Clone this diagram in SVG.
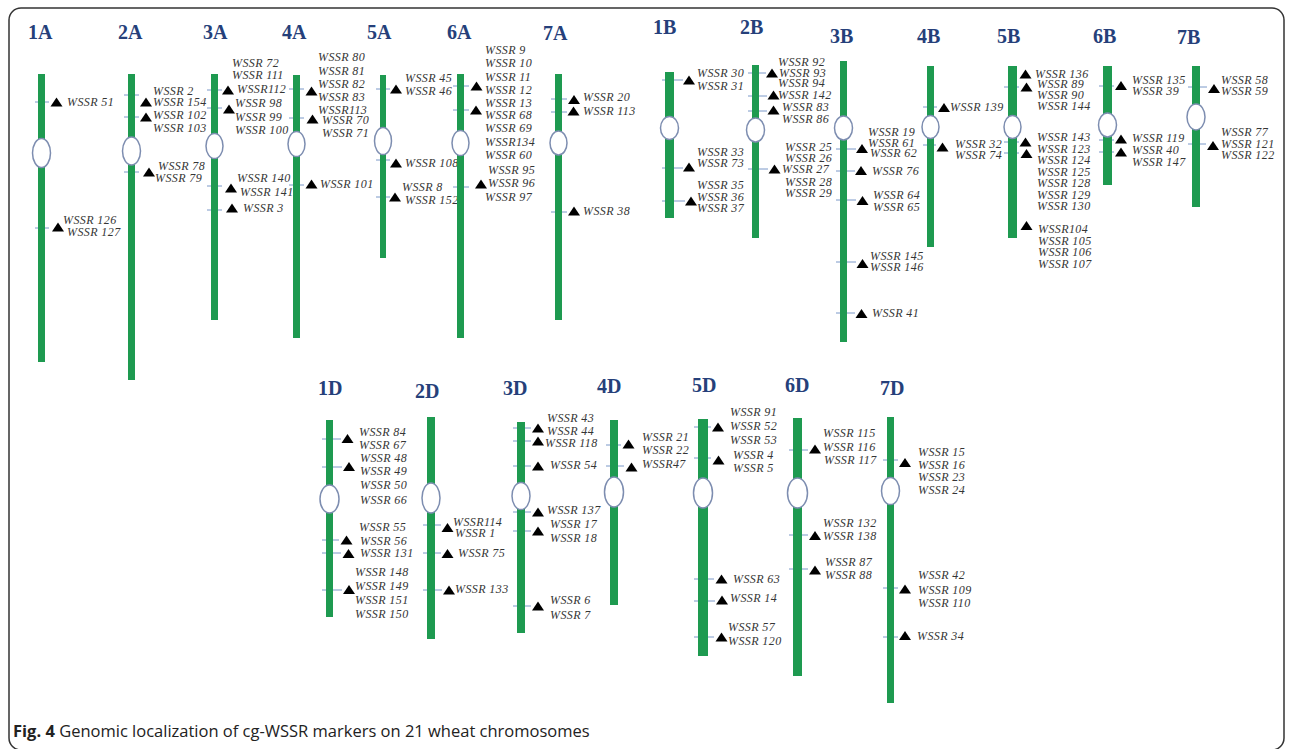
<svg xmlns="http://www.w3.org/2000/svg" xmlns:xlink="http://www.w3.org/1999/xlink" width="1290" height="749" viewBox="0 0 1290 749">
<style>
.bar{fill:#1e9a50}
.cen{fill:#fff;stroke:#7d8db0;stroke-width:1.5}
.hd{font-family:"Liberation Serif",serif;font-weight:bold;font-size:20px;fill:#25407a}
.lb{font-family:"Liberation Serif",serif;font-style:italic;font-size:12px;fill:#353535;letter-spacing:0.4px;dominant-baseline:central}
.tick{stroke:#7a98c8;stroke-width:1}
.tri{fill:#000}
.cap{font-family:"Open Sans",sans-serif;font-size:16.5px;fill:#222}
</style>
<defs>
<path id="tri" class="tri" d="M0,-4.5L6,4.5L-6,4.5Z"/>
</defs>
<rect x="9" y="8" width="1275" height="742" rx="12" fill="#fff" stroke="#333" stroke-width="1.5"/>

<g id="connectors">
<line class="tick" x1="35" y1="102" x2="49" y2="102"/><line class="tick" x1="35" y1="228" x2="49" y2="228"/>
<line class="tick" x1="124" y1="95" x2="139" y2="95"/><line class="tick" x1="124" y1="117" x2="139" y2="117"/><line class="tick" x1="124" y1="172" x2="139" y2="172"/>
<line class="tick" x1="207" y1="90" x2="222" y2="90"/><line class="tick" x1="207" y1="108" x2="222" y2="108"/><line class="tick" x1="207" y1="186" x2="222" y2="186"/><line class="tick" x1="207" y1="210" x2="222" y2="210"/>
<line class="tick" x1="289" y1="89" x2="304" y2="89"/><line class="tick" x1="289" y1="118" x2="304" y2="118"/><line class="tick" x1="289" y1="185" x2="304" y2="185"/>
<line class="tick" x1="376" y1="89" x2="390" y2="89"/><line class="tick" x1="376" y1="160" x2="390" y2="160"/><line class="tick" x1="376" y1="197" x2="390" y2="197"/>
<line class="tick" x1="453" y1="86" x2="469" y2="86"/><line class="tick" x1="453" y1="110" x2="469" y2="110"/><line class="tick" x1="453" y1="187" x2="469" y2="187"/>
<line class="tick" x1="551" y1="99" x2="567" y2="99"/><line class="tick" x1="551" y1="112" x2="567" y2="112"/><line class="tick" x1="551" y1="212" x2="567" y2="212"/>
<line class="tick" x1="662" y1="80" x2="683" y2="80"/><line class="tick" x1="662" y1="168" x2="683" y2="168"/><line class="tick" x1="662" y1="201" x2="685" y2="201"/>
<line class="tick" x1="748" y1="73" x2="766" y2="73"/><line class="tick" x1="748" y1="96" x2="767" y2="96"/><line class="tick" x1="748" y1="111" x2="767" y2="111"/><line class="tick" x1="748" y1="169" x2="768" y2="169"/>
<line class="tick" x1="836" y1="149" x2="856" y2="149"/><line class="tick" x1="836" y1="171" x2="855" y2="171"/><line class="tick" x1="836" y1="200" x2="856" y2="200"/><line class="tick" x1="836" y1="262" x2="856" y2="262"/><line class="tick" x1="836" y1="313" x2="855" y2="313"/>
<line class="tick" x1="923" y1="107" x2="937" y2="107"/><line class="tick" x1="923" y1="145" x2="936" y2="145"/>
<line class="tick" x1="1004" y1="87" x2="1019" y2="87"/><line class="tick" x1="1004" y1="142" x2="1019" y2="142"/><line class="tick" x1="1004" y1="153" x2="1019" y2="153"/>
<line class="tick" x1="1099" y1="86" x2="1114" y2="86"/><line class="tick" x1="1099" y1="140" x2="1114" y2="140"/><line class="tick" x1="1099" y1="152" x2="1114" y2="152"/>
<line class="tick" x1="1188" y1="87" x2="1207" y2="87"/><line class="tick" x1="1188" y1="144" x2="1206" y2="144"/>
<line class="tick" x1="322" y1="439" x2="341" y2="439"/><line class="tick" x1="322" y1="467" x2="342" y2="467"/><line class="tick" x1="322" y1="540" x2="339" y2="540"/><line class="tick" x1="322" y1="553" x2="341" y2="553"/><line class="tick" x1="322" y1="590" x2="342" y2="590"/>
<line class="tick" x1="423" y1="525" x2="441" y2="525"/><line class="tick" x1="423" y1="553" x2="441" y2="553"/><line class="tick" x1="423" y1="590" x2="442" y2="590"/>
<line class="tick" x1="513" y1="428" x2="531" y2="428"/><line class="tick" x1="513" y1="441" x2="531" y2="441"/><line class="tick" x1="513" y1="466" x2="531" y2="466"/><line class="tick" x1="513" y1="512" x2="531" y2="512"/><line class="tick" x1="513" y1="531" x2="531" y2="531"/><line class="tick" x1="513" y1="606" x2="531" y2="606"/>
<line class="tick" x1="606" y1="445" x2="621" y2="445"/><line class="tick" x1="606" y1="466" x2="624" y2="466"/>
<line class="tick" x1="694" y1="427" x2="711" y2="427"/><line class="tick" x1="694" y1="458" x2="711" y2="458"/><line class="tick" x1="694" y1="579" x2="714" y2="579"/><line class="tick" x1="694" y1="601" x2="715" y2="601"/><line class="tick" x1="694" y1="637" x2="714" y2="637"/>
<line class="tick" x1="789" y1="450" x2="808" y2="450"/><line class="tick" x1="789" y1="535" x2="808" y2="535"/><line class="tick" x1="789" y1="569" x2="808" y2="569"/>
<line class="tick" x1="883" y1="460" x2="898" y2="460"/><line class="tick" x1="883" y1="588" x2="898" y2="588"/><line class="tick" x1="883" y1="637" x2="898" y2="637"/>
</g>

<g id="chr1A">
<text class="hd" x="28" y="39">1A</text>
<rect class="bar" x="38" y="74" width="7" height="288"/>
<ellipse class="cen" cx="41.5" cy="153" rx="9" ry="14.5"/>
<use href="#tri" x="56.5" y="102"/><use href="#tri" x="58" y="227"/>
<text class="lb" x="67" y="102">WSSR 51</text>
<text class="lb" x="63" y="220">WSSR 126</text>
<text class="lb" x="67" y="232">WSSR 127</text>
</g>

<g id="chr2A">
<text class="hd" x="118" y="39">2A</text>
<rect class="bar" x="128" y="74" width="7" height="306"/>
<ellipse class="cen" cx="131.5" cy="151" rx="9" ry="14"/>
<use href="#tri" x="146" y="102"/><use href="#tri" x="146" y="117"/><use href="#tri" x="149" y="172"/>
<text class="lb" x="153" y="91">WSSR 2</text>
<text class="lb" x="153" y="102">WSSR 154</text>
<text class="lb" x="153" y="115">WSSR 102</text>
<text class="lb" x="153" y="128">WSSR 103</text>
<text class="lb" x="158" y="166">WSSR 78</text>
<text class="lb" x="155" y="178">WSSR 79</text>
</g>

<g id="chr3A">
<text class="hd" x="203" y="39">3A</text>
<rect class="bar" x="211" y="74" width="7" height="246"/>
<ellipse class="cen" cx="214.5" cy="146" rx="8.5" ry="12.5"/>
<use href="#tri" x="228" y="90"/><use href="#tri" x="229" y="109"/><use href="#tri" x="231" y="188"/><use href="#tri" x="232" y="208"/>
<text class="lb" x="232" y="63">WSSR 72</text>
<text class="lb" x="232" y="75">WSSR 111</text>
<text class="lb" x="237" y="89">WSSR112</text>
<text class="lb" x="235" y="103">WSSR 98</text>
<text class="lb" x="235" y="117">WSSR 99</text>
<text class="lb" x="235" y="130">WSSR 100</text>
<text class="lb" x="237" y="178">WSSR 140</text>
<text class="lb" x="240" y="192">WSSR 141</text>
<text class="lb" x="243" y="208">WSSR 3</text>
</g>

<g id="chr4A">
<text class="hd" x="282" y="39">4A</text>
<rect class="bar" x="293" y="75" width="7" height="263"/>
<ellipse class="cen" cx="296.5" cy="144" rx="8.5" ry="12.5"/>
<use href="#tri" x="311.5" y="91"/><use href="#tri" x="312.5" y="119"/><use href="#tri" x="311.5" y="184"/>
<text class="lb" x="318" y="57">WSSR 80</text>
<text class="lb" x="318" y="71">WSSR 81</text>
<text class="lb" x="318" y="84">WSSR 82</text>
<text class="lb" x="318" y="97">WSSR 83</text>
<text class="lb" x="318" y="110">WSSR113</text>
<text class="lb" x="322" y="120">WSSR 70</text>
<text class="lb" x="322" y="133">WSSR 71</text>
<text class="lb" x="320" y="184">WSSR 101</text>
</g>

<g id="chr5A">
<text class="hd" x="367" y="39">5A</text>
<rect class="bar" x="380" y="75" width="6" height="183"/>
<ellipse class="cen" cx="383" cy="141" rx="8.5" ry="13.5"/>
<use href="#tri" x="396" y="89"/><use href="#tri" x="396" y="163"/><use href="#tri" x="395" y="197"/>
<text class="lb" x="405" y="78">WSSR 45</text>
<text class="lb" x="405" y="91">WSSR 46</text>
<text class="lb" x="405" y="163">WSSR 108</text>
<text class="lb" x="402" y="187">WSSR 8</text>
<text class="lb" x="405" y="200">WSSR 152</text>
</g>

<g id="chr6A">
<text class="hd" x="447" y="39">6A</text>
<rect class="bar" x="457" y="74" width="7" height="264"/>
<ellipse class="cen" cx="460.5" cy="143" rx="8.5" ry="12.5"/>
<use href="#tri" x="476.5" y="86"/><use href="#tri" x="476" y="110"/><use href="#tri" x="481" y="184"/>
<text class="lb" x="485" y="50">WSSR 9</text>
<text class="lb" x="485" y="63">WSSR 10</text>
<text class="lb" x="485" y="77">WSSR 11</text>
<text class="lb" x="485" y="90">WSSR 12</text>
<text class="lb" x="485" y="103">WSSR 13</text>
<text class="lb" x="485" y="115">WSSR 68</text>
<text class="lb" x="485" y="128">WSSR 69</text>
<text class="lb" x="485" y="142">WSSR134</text>
<text class="lb" x="485" y="155">WSSR 60</text>
<text class="lb" x="488" y="170">WSSR 95</text>
<text class="lb" x="488" y="183">WSSR 96</text>
<text class="lb" x="485" y="197">WSSR 97</text>
</g>

<g id="chr7A">
<text class="hd" x="543" y="40">7A</text>
<rect class="bar" x="555" y="74" width="7" height="246"/>
<ellipse class="cen" cx="558.5" cy="143" rx="8.5" ry="12"/>
<use href="#tri" x="574" y="99.5"/><use href="#tri" x="573.5" y="111"/><use href="#tri" x="574" y="211"/>
<text class="lb" x="583" y="97">WSSR 20</text>
<text class="lb" x="583" y="111">WSSR 113</text>
<text class="lb" x="583" y="211">WSSR 38</text>
</g>

<g id="chr1B">
<text class="hd" x="653" y="34">1B</text>
<rect class="bar" x="665" y="72" width="9" height="146"/>
<ellipse class="cen" cx="669.5" cy="128" rx="9" ry="11.5"/>
<use href="#tri" x="689" y="80"/><use href="#tri" x="689" y="167"/><use href="#tri" x="691" y="201"/>
<text class="lb" x="697" y="73">WSSR 30</text>
<text class="lb" x="697" y="86">WSSR 31</text>
<text class="lb" x="697" y="152">WSSR 33</text>
<text class="lb" x="697" y="163">WSSR 73</text>
<text class="lb" x="697" y="185">WSSR 35</text>
<text class="lb" x="697" y="197">WSSR 36</text>
<text class="lb" x="697" y="208">WSSR 37</text>
</g>

<g id="chr2B">
<text class="hd" x="740" y="34">2B</text>
<rect class="bar" x="752" y="65" width="7" height="173"/>
<ellipse class="cen" cx="755.5" cy="130" rx="9" ry="12"/>
<use href="#tri" x="772" y="73"/><use href="#tri" x="773.5" y="95"/><use href="#tri" x="773.5" y="110"/><use href="#tri" x="774.5" y="169"/>
<text class="lb" x="778" y="62">WSSR 92</text>
<text class="lb" x="779" y="73">WSSR 93</text>
<text class="lb" x="778" y="83">WSSR 94</text>
<text class="lb" x="778" y="95">WSSR 142</text>
<text class="lb" x="782" y="107">WSSR 83</text>
<text class="lb" x="782" y="119">WSSR 86</text>
<text class="lb" x="785" y="147">WSSR 25</text>
<text class="lb" x="785" y="158">WSSR 26</text>
<text class="lb" x="782" y="169">WSSR 27</text>
<text class="lb" x="785" y="182">WSSR 28</text>
<text class="lb" x="785" y="193">WSSR 29</text>
</g>

<g id="chr3B">
<text class="hd" x="830" y="43">3B</text>
<rect class="bar" x="840" y="61" width="7" height="281"/>
<ellipse class="cen" cx="843.5" cy="128" rx="9" ry="12"/>
<use href="#tri" x="862" y="148.5"/><use href="#tri" x="861" y="170.5"/><use href="#tri" x="862.5" y="200.5"/><use href="#tri" x="862.5" y="263.5"/><use href="#tri" x="861.5" y="313.5"/>
<text class="lb" x="868" y="132">WSSR 19</text>
<text class="lb" x="868" y="143">WSSR 61</text>
<text class="lb" x="870" y="153">WSSR 62</text>
<text class="lb" x="872" y="171">WSSR 76</text>
<text class="lb" x="873" y="195">WSSR 64</text>
<text class="lb" x="873" y="207">WSSR 65</text>
<text class="lb" x="870" y="256">WSSR 145</text>
<text class="lb" x="870" y="267">WSSR 146</text>
<text class="lb" x="872" y="313">WSSR 41</text>
</g>

<g id="chr4B">
<text class="hd" x="917" y="43">4B</text>
<rect class="bar" x="927" y="66" width="7" height="181"/>
<ellipse class="cen" cx="930.5" cy="127" rx="8.5" ry="11.5"/>
<use href="#tri" x="944" y="107.5"/><use href="#tri" x="942.5" y="147"/>
<text class="lb" x="950" y="107">WSSR 139</text>
<text class="lb" x="955" y="144">WSSR 32</text>
<text class="lb" x="955" y="155">WSSR 74</text>
</g>

<g id="chr5B">
<text class="hd" x="997" y="43">5B</text>
<rect class="bar" x="1008" y="66" width="9" height="172"/>
<ellipse class="cen" cx="1012.5" cy="127" rx="8.5" ry="11.5"/>
<use href="#tri" x="1025.5" y="74"/><use href="#tri" x="1026.5" y="87"/><use href="#tri" x="1025.5" y="142"/><use href="#tri" x="1026.5" y="153.5"/><use href="#tri" x="1026.5" y="225.5"/>
<text class="lb" x="1035" y="74">WSSR 136</text>
<text class="lb" x="1037" y="84">WSSR 89</text>
<text class="lb" x="1037" y="95">WSSR 90</text>
<text class="lb" x="1037" y="106">WSSR 144</text>
<text class="lb" x="1037" y="137">WSSR 143</text>
<text class="lb" x="1037" y="148.5">WSSR 123</text>
<text class="lb" x="1037" y="160">WSSR 124</text>
<text class="lb" x="1037" y="171.5">WSSR 125</text>
<text class="lb" x="1037" y="183">WSSR 128</text>
<text class="lb" x="1037" y="194.5">WSSR 129</text>
<text class="lb" x="1037" y="206">WSSR 130</text>
<text class="lb" x="1038" y="229">WSSR104</text>
<text class="lb" x="1038" y="240.5">WSSR 105</text>
<text class="lb" x="1038" y="252">WSSR 106</text>
<text class="lb" x="1038" y="263.5">WSSR 107</text>
</g>

<g id="chr6B">
<text class="hd" x="1093" y="43">6B</text>
<rect class="bar" x="1103" y="66" width="9" height="119"/>
<ellipse class="cen" cx="1107.5" cy="125" rx="9" ry="12"/>
<use href="#tri" x="1121" y="85.5"/><use href="#tri" x="1121" y="139"/><use href="#tri" x="1121" y="152"/>
<text class="lb" x="1132" y="80">WSSR 135</text>
<text class="lb" x="1132" y="91">WSSR 39</text>
<text class="lb" x="1132" y="138">WSSR 119</text>
<text class="lb" x="1132" y="150">WSSR 40</text>
<text class="lb" x="1132" y="162">WSSR 147</text>
</g>

<g id="chr7B">
<text class="hd" x="1177" y="44">7B</text>
<rect class="bar" x="1192" y="66" width="8" height="141"/>
<ellipse class="cen" cx="1196" cy="117" rx="9" ry="13"/>
<use href="#tri" x="1214" y="88.5"/><use href="#tri" x="1213" y="145.5"/>
<text class="lb" x="1221" y="80">WSSR 58</text>
<text class="lb" x="1221" y="91">WSSR 59</text>
<text class="lb" x="1221" y="132">WSSR 77</text>
<text class="lb" x="1221" y="143.5">WSSR 121</text>
<text class="lb" x="1221" y="155">WSSR 122</text>
</g>

<g id="chr1D">
<text class="hd" x="318" y="395">1D</text>
<rect class="bar" x="326" y="420" width="7" height="197"/>
<ellipse class="cen" cx="329.5" cy="499" rx="9.5" ry="14"/>
<use href="#tri" x="347.5" y="438.5"/><use href="#tri" x="349" y="466.5"/><use href="#tri" x="346.5" y="540"/><use href="#tri" x="348.5" y="553.5"/><use href="#tri" x="349" y="589.5"/>
<text class="lb" x="359" y="432">WSSR 84</text>
<text class="lb" x="359" y="445">WSSR 67</text>
<text class="lb" x="360" y="458">WSSR 48</text>
<text class="lb" x="360" y="471">WSSR 49</text>
<text class="lb" x="360" y="485">WSSR 50</text>
<text class="lb" x="360" y="500">WSSR 66</text>
<text class="lb" x="359" y="527">WSSR 55</text>
<text class="lb" x="360" y="541">WSSR 56</text>
<text class="lb" x="360" y="553">WSSR 131</text>
<text class="lb" x="355" y="572">WSSR 148</text>
<text class="lb" x="355" y="586">WSSR 149</text>
<text class="lb" x="355" y="600">WSSR 151</text>
<text class="lb" x="355" y="614">WSSR 150</text>
</g>

<g id="chr2D">
<text class="hd" x="415" y="398">2D</text>
<rect class="bar" x="427" y="417" width="8" height="222"/>
<ellipse class="cen" cx="431" cy="498" rx="9" ry="15"/>
<use href="#tri" x="447.5" y="527.5"/><use href="#tri" x="447.5" y="553.5"/><use href="#tri" x="449" y="590"/>
<text class="lb" x="453" y="522">WSSR114</text>
<text class="lb" x="455" y="533">WSSR 1</text>
<text class="lb" x="458" y="553">WSSR 75</text>
<text class="lb" x="455" y="589">WSSR 133</text>
</g>

<g id="chr3D">
<text class="hd" x="503" y="395">3D</text>
<rect class="bar" x="517" y="422" width="8" height="211"/>
<ellipse class="cen" cx="521" cy="496" rx="9" ry="13.5"/>
<use href="#tri" x="538" y="428"/><use href="#tri" x="538" y="441"/><use href="#tri" x="538" y="466"/><use href="#tri" x="538" y="512"/><use href="#tri" x="538" y="531"/><use href="#tri" x="538" y="606"/>
<text class="lb" x="547" y="418">WSSR 43</text>
<text class="lb" x="547" y="431">WSSR 44</text>
<text class="lb" x="545" y="443">WSSR 118</text>
<text class="lb" x="550" y="465">WSSR 54</text>
<text class="lb" x="547" y="510">WSSR 137</text>
<text class="lb" x="550" y="524">WSSR 17</text>
<text class="lb" x="550" y="538">WSSR 18</text>
<text class="lb" x="550" y="600">WSSR 6</text>
<text class="lb" x="550" y="615">WSSR 7</text>
</g>

<g id="chr4D">
<text class="hd" x="597" y="393">4D</text>
<rect class="bar" x="610" y="420" width="8" height="185"/>
<ellipse class="cen" cx="614" cy="492" rx="9.5" ry="15"/>
<use href="#tri" x="628.5" y="444"/><use href="#tri" x="631.5" y="467"/>
<text class="lb" x="642" y="437">WSSR 21</text>
<text class="lb" x="642" y="450">WSSR 22</text>
<text class="lb" x="642" y="464">WSSR47</text>
</g>

<g id="chr5D">
<text class="hd" x="692" y="392">5D</text>
<rect class="bar" x="698" y="419" width="10" height="237"/>
<ellipse class="cen" cx="703" cy="493" rx="9.5" ry="15"/>
<use href="#tri" x="718" y="427"/><use href="#tri" x="718.5" y="460"/><use href="#tri" x="721.5" y="579"/><use href="#tri" x="722" y="600"/><use href="#tri" x="721.5" y="637"/>
<text class="lb" x="730" y="412">WSSR 91</text>
<text class="lb" x="730" y="426">WSSR 52</text>
<text class="lb" x="730" y="440">WSSR 53</text>
<text class="lb" x="733" y="455">WSSR 4</text>
<text class="lb" x="733" y="468">WSSR 5</text>
<text class="lb" x="733" y="579">WSSR 63</text>
<text class="lb" x="730" y="598">WSSR 14</text>
<text class="lb" x="728" y="627">WSSR 57</text>
<text class="lb" x="728" y="641">WSSR 120</text>
</g>

<g id="chr6D">
<text class="hd" x="785" y="392">6D</text>
<rect class="bar" x="793" y="418" width="9" height="258"/>
<ellipse class="cen" cx="797.5" cy="493" rx="10" ry="15"/>
<use href="#tri" x="815" y="449"/><use href="#tri" x="815" y="535.5"/><use href="#tri" x="815" y="570"/>
<text class="lb" x="823" y="433">WSSR 115</text>
<text class="lb" x="823" y="447">WSSR 116</text>
<text class="lb" x="824" y="460">WSSR 117</text>
<text class="lb" x="823" y="523">WSSR 132</text>
<text class="lb" x="823" y="536">WSSR 138</text>
<text class="lb" x="825" y="562">WSSR 87</text>
<text class="lb" x="825" y="575">WSSR 88</text>
</g>

<g id="chr7D">
<text class="hd" x="880" y="395">7D</text>
<rect class="bar" x="887" y="417" width="7" height="286"/>
<ellipse class="cen" cx="890.5" cy="491" rx="9" ry="13.5"/>
<use href="#tri" x="905" y="462.5"/><use href="#tri" x="905" y="589"/><use href="#tri" x="905" y="635.5"/>
<text class="lb" x="918" y="452">WSSR 15</text>
<text class="lb" x="918" y="465">WSSR 16</text>
<text class="lb" x="918" y="477">WSSR 23</text>
<text class="lb" x="918" y="490">WSSR 24</text>
<text class="lb" x="918" y="575">WSSR 42</text>
<text class="lb" x="918" y="590">WSSR 109</text>
<text class="lb" x="918" y="603">WSSR 110</text>
<text class="lb" x="917" y="636">WSSR 34</text>
</g>

<g id="caption">
<text class="cap" x="13" y="737"><tspan font-weight="bold">Fig. 4</tspan> Genomic localization of cg-WSSR markers on 21 wheat chromosomes</text>
</g>
</svg>
